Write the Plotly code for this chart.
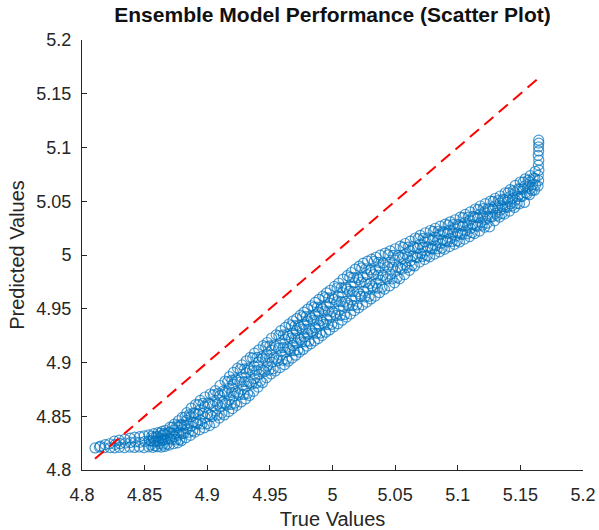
import plotly.graph_objects as go

# true vs predicted values (one line per x-column)
true_vals = [
    4.8104,
    4.8139, 4.8146,
    4.8178, 4.8185,
    4.8225, 4.8219,
    4.8261, 4.8266, 4.8259,
    4.8298, 4.8305, 4.8297,
    4.8339, 4.8346, 4.8341,
    4.8380, 4.8387, 4.8384,
    4.8418, 4.8425, 4.8420,
    4.8457, 4.8463, 4.8461,
    4.8495, 4.8502, 4.8497,
    4.8532, 4.8539, 4.8534,
    4.8566, 4.8574, 4.8569, 4.8572,
    4.8601, 4.8609, 4.8604, 4.8607,
    4.8633, 4.8641, 4.8636, 4.8639,
    4.8659, 4.8667, 4.8662, 4.8665,
    4.8696, 4.8704, 4.8699, 4.8702,
    4.8731, 4.8739, 4.8734, 4.8737,
    4.8764, 4.8772, 4.8767, 4.8770,
    4.8794, 4.8802, 4.8797, 4.8800,
    4.8831, 4.8839, 4.8834, 4.8837,
    4.8866, 4.8874, 4.8869, 4.8872,
    4.8901, 4.8909, 4.8904, 4.8907,
    4.8938, 4.8946, 4.8941, 4.8944,
    4.8976, 4.8984, 4.8979, 4.8982,
    4.9018, 4.9026, 4.9021, 4.9024,
    4.9058, 4.9066, 4.9061, 4.9064,
    4.9096, 4.9104, 4.9099, 4.9102,
    4.9136, 4.9144, 4.9139, 4.9142,
    4.9171, 4.9179, 4.9174, 4.9177,
    4.9202, 4.9210, 4.9205, 4.9208,
    4.9236, 4.9244, 4.9239, 4.9242,
    4.9271, 4.9279, 4.9274, 4.9277,
    4.9306, 4.9314, 4.9309, 4.9312,
    4.9337, 4.9345, 4.9340, 4.9343,
    4.9371, 4.9379, 4.9374, 4.9377,
    4.9406, 4.9414, 4.9409, 4.9412,
    4.9441, 4.9449, 4.9444, 4.9447,
    4.9473, 4.9481, 4.9476, 4.9479,
    4.9508, 4.9516, 4.9511, 4.9514,
    4.9544, 4.9552, 4.9547, 4.9550,
    4.9581, 4.9589, 4.9584, 4.9587,
    4.9617, 4.9625, 4.9620, 4.9623,
    4.9647, 4.9655, 4.9650, 4.9653,
    4.9678, 4.9686, 4.9681, 4.9684,
    4.9708, 4.9716, 4.9711, 4.9714,
    4.9737, 4.9745, 4.9740, 4.9743,
    4.9766, 4.9774, 4.9769, 4.9772,
    4.9796, 4.9804, 4.9799, 4.9802,
    4.9827, 4.9835, 4.9830, 4.9833,
    4.9856, 4.9864, 4.9859, 4.9862,
    4.9886, 4.9894, 4.9889, 4.9892,
    4.9916, 4.9924, 4.9919, 4.9922,
    4.9946, 4.9954, 4.9949, 4.9952,
    4.9976, 4.9984, 4.9979, 4.9982,
    5.0010, 5.0018, 5.0013, 5.0016,
    5.0044, 5.0052, 5.0047, 5.0050,
    5.0078, 5.0086, 5.0081, 5.0084,
    5.0112, 5.0120, 5.0115, 5.0118,
    5.0144, 5.0152, 5.0147, 5.0150,
    5.0176, 5.0184, 5.0179, 5.0182,
    5.0208, 5.0216, 5.0211, 5.0214,
    5.0240, 5.0248, 5.0243, 5.0246,
    5.0274, 5.0282, 5.0277, 5.0280,
    5.0307, 5.0315, 5.0310, 5.0313,
    5.0341, 5.0349, 5.0344, 5.0347,
    5.0375, 5.0383, 5.0378, 5.0381,
    5.0415, 5.0423, 5.0418, 5.0421,
    5.0455, 5.0463, 5.0458, 5.0461,
    5.0495, 5.0503, 5.0498, 5.0501,
    5.0535, 5.0543, 5.0538, 5.0541,
    5.0575, 5.0583, 5.0578, 5.0581,
    5.0615, 5.0623, 5.0618, 5.0621,
    5.0655, 5.0663, 5.0658, 5.0661,
    5.0695, 5.0703, 5.0698, 5.0701,
    5.0735, 5.0743, 5.0738, 5.0741,
    5.0775, 5.0783, 5.0778, 5.0781,
    5.0815, 5.0823, 5.0818, 5.0821,
    5.0854, 5.0862, 5.0857, 5.0860,
    5.0894, 5.0902, 5.0897, 5.0900,
    5.0934, 5.0942, 5.0937, 5.0940,
    5.0974, 5.0982, 5.0977, 5.0980,
    5.1014, 5.1022, 5.1017, 5.1020,
    5.1054, 5.1062, 5.1057, 5.1060,
    5.1094, 5.1102, 5.1097, 5.1100,
    5.1134, 5.1142, 5.1137, 5.1140,
    5.1174, 5.1182, 5.1177, 5.1180,
    5.1214, 5.1222, 5.1217, 5.1220,
    5.1254, 5.1262, 5.1257, 5.1260,
    5.1294, 5.1302, 5.1297, 5.1300,
    5.1333, 5.1341, 5.1336, 5.1339,
    5.1373, 5.1381, 5.1376, 5.1379,
    5.1413, 5.1421, 5.1416, 5.1419,
    5.1453, 5.1461, 5.1456, 5.1459,
    5.1493, 5.1501, 5.1496, 5.1499,
    5.1533, 5.1541, 5.1536, 5.1539,
    5.1573, 5.1581, 5.1576, 5.1579,
    5.1613, 5.1621, 5.1616, 5.1619,
    5.1641, 5.1646, 5.1643, 5.1648, 5.1644, 5.1647, 5.1642, 5.1646, 5.1645, 5.1647, 5.1646,
]

pred_vals = [
    4.8205,
    4.8213, 4.8222,
    4.8207, 4.8236,
    4.8209, 4.8244,
    4.8206, 4.8238, 4.8268,
    4.8211, 4.8245, 4.8277,
    4.8208, 4.8251, 4.8286,
    4.8213, 4.8256, 4.8297,
    4.8210, 4.8262, 4.8306,
    4.8214, 4.8258, 4.8311,
    4.8209, 4.8266, 4.8318,
    4.8216, 4.8271, 4.8327,
    4.8211, 4.8263, 4.8301, 4.8338,
    4.8217, 4.8268, 4.8309, 4.8347,
    4.8213, 4.8274, 4.8322, 4.8359,
    4.8219, 4.8281, 4.8329, 4.8368,
    4.8232, 4.8293, 4.8351, 4.8398,
    4.8244, 4.8311, 4.8372, 4.8427,
    4.8253, 4.8324, 4.8396, 4.8458,
    4.8272, 4.8341, 4.8419, 4.8489,
    4.8301, 4.8383, 4.8461, 4.8533,
    4.8322, 4.8408, 4.8497, 4.8576,
    4.8353, 4.8438, 4.8527, 4.8609,
    4.8374, 4.8462, 4.8559, 4.8648,
    4.8392, 4.8488, 4.8587, 4.8679,
    4.8413, 4.8512, 4.8614, 4.8707,
    4.8441, 4.8547, 4.8643, 4.8738,
    4.8483, 4.8586, 4.8689, 4.8786,
    4.8512, 4.8619, 4.8724, 4.8828,
    4.8543, 4.8652, 4.8761, 4.8869,
    4.8571, 4.8687, 4.8798, 4.8908,
    4.8602, 4.8718, 4.8834, 4.8947,
    4.8633, 4.8751, 4.8864, 4.8978,
    4.8661, 4.8779, 4.8903, 4.9016,
    4.8693, 4.8814, 4.8932, 4.9048,
    4.8732, 4.8851, 4.8968, 4.9087,
    4.8771, 4.8889, 4.9004, 4.9118,
    4.8812, 4.8926, 4.9041, 4.9157,
    4.8858, 4.8967, 4.9079, 4.9186,
    4.8893, 4.9004, 4.9117, 4.9228,
    4.8921, 4.9038, 4.9149, 4.9257,
    4.8952, 4.9069, 4.9183, 4.9296,
    4.8979, 4.9096, 4.9214, 4.9327,
    4.9012, 4.9127, 4.9243, 4.9358,
    4.9041, 4.9158, 4.9271, 4.9386,
    4.9068, 4.9182, 4.9297, 4.9409,
    4.9097, 4.9213, 4.9328, 4.9441,
    4.9121, 4.9239, 4.9354, 4.9468,
    4.9152, 4.9268, 4.9386, 4.9497,
    4.9173, 4.9291, 4.9412, 4.9528,
    4.9202, 4.9322, 4.9443, 4.9559,
    4.9223, 4.9347, 4.9469, 4.9588,
    4.9251, 4.9374, 4.9498, 4.9617,
    4.9282, 4.9404, 4.9527, 4.9648,
    4.9303, 4.9428, 4.9553, 4.9672,
    4.9332, 4.9459, 4.9586, 4.9708,
    4.9361, 4.9489, 4.9617, 4.9738,
    4.9393, 4.9521, 4.9649, 4.9776,
    4.9422, 4.9551, 4.9682, 4.9808,
    4.9451, 4.9582, 4.9711, 4.9837,
    4.9483, 4.9613, 4.9742, 4.9869,
    4.9508, 4.9639, 4.9771, 4.9897,
    4.9536, 4.9664, 4.9796, 4.9924,
    4.9562, 4.9688, 4.9817, 4.9943,
    4.9591, 4.9713, 4.9839, 4.9961,
    4.9618, 4.9739, 4.9861, 4.9979,
    4.9649, 4.9767, 4.9883, 4.9998,
    4.9682, 4.9793, 4.9907, 5.0018,
    4.9712, 4.9821, 4.9931, 5.0039,
    4.9741, 4.9848, 4.9952, 5.0058,
    4.9778, 4.9877, 4.9978, 5.0082,
    4.9818, 4.9911, 5.0009, 5.0107,
    4.9857, 4.9946, 5.0038, 5.0129,
    4.9898, 4.9981, 5.0067, 5.0158,
    4.9934, 5.0012, 5.0097, 5.0183,
    4.9958, 5.0037, 5.0121, 5.0207,
    4.9983, 5.0062, 5.0144, 5.0228,
    5.0008, 5.0086, 5.0167, 5.0249,
    5.0029, 5.0108, 5.0189, 5.0268,
    5.0052, 5.0131, 5.0211, 5.0287,
    5.0078, 5.0154, 5.0232, 5.0309,
    5.0099, 5.0176, 5.0252, 5.0328,
    5.0121, 5.0198, 5.0274, 5.0352,
    5.0148, 5.0224, 5.0301, 5.0377,
    5.0171, 5.0248, 5.0324, 5.0401,
    5.0199, 5.0274, 5.0352, 5.0428,
    5.0223, 5.0302, 5.0379, 5.0456,
    5.0258, 5.0331, 5.0402, 5.0477,
    5.0262, 5.0358, 5.0429, 5.0501,
    5.0318, 5.0387, 5.0456, 5.0528,
    5.0352, 5.0418, 5.0483, 5.0549,
    5.0381, 5.0447, 5.0512, 5.0579,
    5.0409, 5.0477, 5.0543, 5.0608,
    5.0442, 5.0511, 5.0579, 5.0648,
    5.0476, 5.0544, 5.0612, 5.0679,
    5.0489, 5.0578, 5.0643, 5.0709,
    5.0561, 5.0617, 5.0678, 5.0738,
    5.0603, 5.0651, 5.0712, 5.0779,
    5.0642, 5.0693, 5.0741, 5.0789, 5.0836, 5.0882, 5.0927, 5.0968, 5.1006, 5.1041, 5.1068,
]

# extra points sitting between the columns above (the band is densely packed)
true_vals_fill = [
    4.8549, 4.8554, 4.8557,
    4.8584, 4.8589, 4.8592,
    4.8618, 4.8623, 4.8626,
    4.8647, 4.8652, 4.8655,
    4.8679, 4.8684, 4.8687,
    4.8715, 4.8720, 4.8723,
    4.8749, 4.8754, 4.8757,
    4.8780, 4.8785, 4.8788,
    4.8814, 4.8819, 4.8822,
    4.8850, 4.8855, 4.8858,
    4.8885, 4.8890, 4.8893,
    4.8921, 4.8926, 4.8929,
    4.8958, 4.8963, 4.8966,
    4.8998, 4.9003, 4.9006,
    4.9039, 4.9044, 4.9047,
    4.9078, 4.9083, 4.9086,
    4.9117, 4.9122, 4.9125,
    4.9155, 4.9160, 4.9163,
    4.9188, 4.9193, 4.9196,
    4.9220, 4.9225, 4.9228,
    4.9255, 4.9260, 4.9263,
    4.9290, 4.9295, 4.9298,
    4.9323, 4.9328, 4.9331,
    4.9355, 4.9360, 4.9363,
    4.9390, 4.9395, 4.9398,
    4.9425, 4.9430, 4.9433,
    4.9458, 4.9463, 4.9466,
    4.9492, 4.9497, 4.9500,
    4.9527, 4.9532, 4.9535,
    4.9564, 4.9569, 4.9572,
    4.9600, 4.9605, 4.9608,
    4.9633, 4.9638, 4.9641,
    4.9664, 4.9669, 4.9672,
    4.9694, 4.9699, 4.9702,
    4.9724, 4.9729, 4.9732,
    4.9753, 4.9758, 4.9761,
    4.9782, 4.9787, 4.9790,
    4.9813, 4.9818, 4.9821,
    4.9843, 4.9848, 4.9851,
    4.9872, 4.9877, 4.9880,
    4.9902, 4.9907, 4.9910,
    4.9932, 4.9937, 4.9940,
    4.9962, 4.9967, 4.9970,
    4.9994, 4.9999, 5.0002,
    5.0028, 5.0033, 5.0036,
    5.0062, 5.0067, 5.0070,
    5.0096, 5.0101, 5.0104,
    5.0129, 5.0134, 5.0137,
    5.0161, 5.0166, 5.0169,
    5.0193, 5.0198, 5.0201,
    5.0225, 5.0230, 5.0233,
    5.0258, 5.0263, 5.0266,
    5.0292, 5.0297, 5.0300,
    5.0325, 5.0330, 5.0333,
    5.0359, 5.0364, 5.0367,
    5.0396, 5.0401, 5.0404,
    5.0436, 5.0441, 5.0444,
    5.0476, 5.0481, 5.0484,
    5.0516, 5.0521, 5.0524,
    5.0556, 5.0561, 5.0564,
    5.0596, 5.0601, 5.0604,
    5.0636, 5.0641, 5.0644,
    5.0676, 5.0681, 5.0684,
    5.0716, 5.0721, 5.0724,
    5.0756, 5.0761, 5.0764,
    5.0796, 5.0801, 5.0804,
    5.0836, 5.0841, 5.0844,
    5.0875, 5.0880, 5.0883,
    5.0915, 5.0920, 5.0923,
    5.0955, 5.0960, 5.0963,
    5.0995, 5.1000, 5.1003,
    5.1035, 5.1040, 5.1043,
    5.1075, 5.1080, 5.1083,
    5.1115, 5.1120, 5.1123,
    5.1155, 5.1160, 5.1163,
    5.1195, 5.1200, 5.1203,
    5.1235, 5.1240, 5.1243,
    5.1275, 5.1280, 5.1283,
    5.1315, 5.1320, 5.1323,
    5.1354, 5.1359, 5.1362,
    5.1394, 5.1399, 5.1402,
    5.1434, 5.1439, 5.1442,
    5.1474, 5.1479, 5.1482,
    5.1514, 5.1519, 5.1522,
    5.1554, 5.1559, 5.1562,
    5.1594, 5.1599, 5.1602,
]

pred_vals_fill = [
    4.8233, 4.8274, 4.8314,
    4.8227, 4.8268, 4.8312,
    4.8248, 4.8295, 4.8342,
    4.8240, 4.8290, 4.8340,
    4.8242, 4.8292, 4.8345,
    4.8280, 4.8340, 4.8399,
    4.8280, 4.8346, 4.8412,
    4.8284, 4.8352, 4.8423,
    4.8341, 4.8417, 4.8493,
    4.8351, 4.8434, 4.8516,
    4.8364, 4.8445, 4.8532,
    4.8428, 4.8518, 4.8608,
    4.8428, 4.8524, 4.8619,
    4.8432, 4.8525, 4.8623,
    4.8498, 4.8599, 4.8699,
    4.8510, 4.8612, 4.8714,
    4.8529, 4.8628, 4.8733,
    4.8605, 4.8714, 4.8823,
    4.8610, 4.8723, 4.8836,
    4.8621, 4.8730, 4.8846,
    4.8701, 4.8818, 4.8935,
    4.8703, 4.8822, 4.8941,
    4.8713, 4.8826, 4.8947,
    4.8798, 4.8919, 4.9040,
    4.8808, 4.8928, 4.9047,
    4.8827, 4.8937, 4.9055,
    4.8916, 4.9030, 4.9145,
    4.8929, 4.9042, 4.9154,
    4.8941, 4.9048, 4.9162,
    4.9019, 4.9134, 4.9250,
    4.9021, 4.9139, 4.9257,
    4.9031, 4.9142, 4.9260,
    4.9110, 4.9227, 4.9344,
    4.9110, 4.9227, 4.9343,
    4.9117, 4.9227, 4.9343,
    4.9192, 4.9310, 4.9427,
    4.9192, 4.9310, 4.9428,
    4.9198, 4.9310, 4.9429,
    4.9273, 4.9394, 4.9516,
    4.9271, 4.9394, 4.9516,
    4.9274, 4.9391, 4.9515,
    4.9355, 4.9479, 4.9604,
    4.9352, 4.9477, 4.9601,
    4.9355, 4.9474, 4.9601,
    4.9437, 4.9565, 4.9693,
    4.9438, 4.9567, 4.9696,
    4.9446, 4.9569, 4.9700,
    4.9530, 4.9661, 4.9792,
    4.9529, 4.9660, 4.9791,
    4.9535, 4.9659, 4.9790,
    4.9615, 4.9748, 4.9880,
    4.9611, 4.9742, 4.9872,
    4.9615, 4.9735, 4.9862,
    4.9693, 4.9817, 4.9941,
    4.9691, 4.9812, 4.9932,
    4.9700, 4.9810, 4.9926,
    4.9777, 4.9890, 5.0002,
    4.9778, 4.9888, 4.9997,
    4.9791, 4.9890, 4.9996,
    4.9869, 4.9970, 5.0071,
    4.9883, 4.9978, 5.0073,
    4.9905, 4.9990, 5.0080,
    4.9977, 5.0064, 5.0151,
    4.9986, 5.0071, 5.0155,
    4.9996, 5.0075, 5.0159,
    5.0054, 5.0137, 5.0220,
    5.0057, 5.0139, 5.0221,
    5.0065, 5.0141, 5.0221,
    5.0121, 5.0200, 5.0279,
    5.0126, 5.0204, 5.0282,
    5.0133, 5.0207, 5.0285,
    5.0190, 5.0268, 5.0347,
    5.0197, 5.0275, 5.0352,
    5.0208, 5.0282, 5.0360,
    5.0266, 5.0345, 5.0424,
    5.0277, 5.0354, 5.0431,
    5.0296, 5.0364, 5.0437,
    5.0355, 5.0426, 5.0498,
    5.0368, 5.0437, 5.0506,
    5.0387, 5.0450, 5.0517,
    5.0443, 5.0510, 5.0578,
    5.0458, 5.0527, 5.0596,
    5.0480, 5.0545, 5.0615,
    5.0545, 5.0612, 5.0678,
    5.0570, 5.0633, 5.0695,
    5.0600, 5.0656, 5.0717,
]

tick_vals = [4.8, 4.85, 4.9, 4.95, 5.0, 5.05, 5.1, 5.15, 5.2]
tick_text = ["4.8", "4.85", "4.9", "4.95", "5", "5.05", "5.1", "5.15", "5.2"]

x_all = true_vals + true_vals_fill
y_all = pred_vals + pred_vals_fill

# perfect-fit reference line spans the range of the true values
ref_line = [min(x_all), max(x_all)]

font_name = "Liberation Sans, Arial, sans-serif"
ink = "#262626"

fig = go.Figure()

fig.add_trace(go.Scatter(
    x=x_all, y=y_all, mode="markers",
    marker=dict(symbol="circle-open", size=10, color="#0072BD",
                opacity=0.7, line=dict(width=1.2)),
    showlegend=False,
))

fig.add_trace(go.Scatter(
    x=ref_line, y=ref_line, mode="lines",
    line=dict(color="#FF0000", width=2, dash="12px,7px"),
    showlegend=False,
))

axis_style = dict(
    range=[4.8, 5.2], tickvals=tick_vals, ticktext=tick_text,
    showgrid=False, zeroline=False, showline=True, linecolor=ink, linewidth=1,
    ticks="inside", ticklen=5, tickcolor=ink, mirror=False, automargin=False,
    tickfont=dict(family=font_name, size=18, color=ink),
)

fig.update_layout(
    width=599, height=530,
    margin=dict(l=82, r=16, t=40, b=60),
    paper_bgcolor="white", plot_bgcolor="white",
    title=dict(text="<b>Ensemble Model Performance (Scatter Plot)</b>",
               xref="paper", x=0.5, xanchor="center",
               yref="container", y=0.972, yanchor="middle",
               font=dict(family=font_name, size=21, color="#111111")),
    xaxis=dict(axis_style, ticklabelstandoff=8,
               title=dict(text="True Values", standoff=8,
                          font=dict(family=font_name, size=20, color=ink))),
    yaxis=dict(axis_style, ticklabelstandoff=6,
               title=dict(text="Predicted Values", standoff=6,
                          font=dict(family=font_name, size=20, color=ink))),
)

# drop the page's default body margin so the figure sits at the window corner
fig.write_html("out.html", config={"displayModeBar": False},
               post_script="document.body.style.margin = '0';")
